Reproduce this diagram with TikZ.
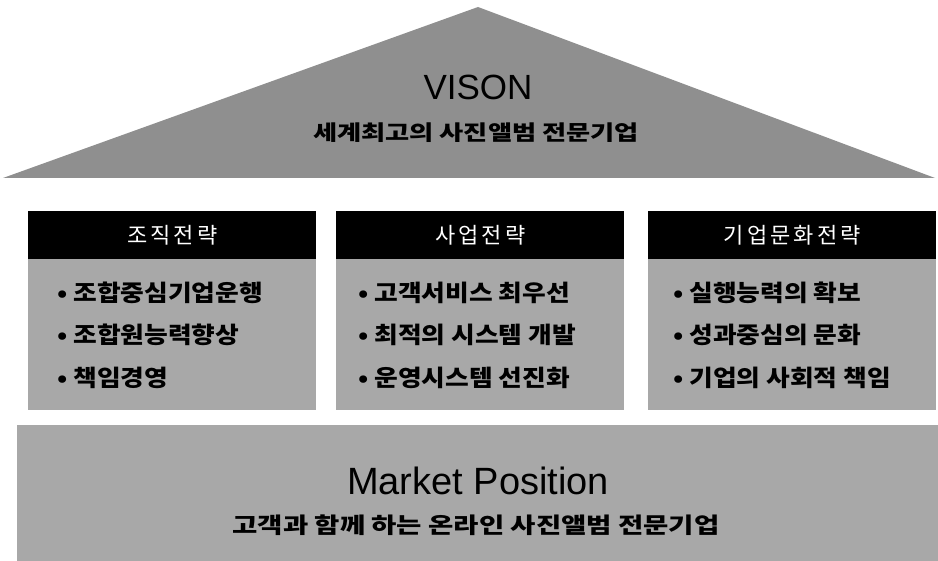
\documentclass[tikz,border=0pt]{standalone}
\usepackage{fontspec}
\setmainfont{Liberation Sans}
\newfontfamily\krwide{Noto Sans CJK KR}[FakeStretch=1.25]
\newfontfamily\kritem{Noto Sans CJK KR}[FakeStretch=1.12]
\newfontfamily\krhead{Noto Sans CJK KR}[LetterSpace=14]
\definecolor{roofgray}{gray}{0.56}
\definecolor{boxgray}{gray}{0.66}
\newcommand{\bul}{•\hspace{6pt}}
\begin{document}
\begin{tikzpicture}[x=1pt,y=-1pt,
  title/.style={font=\fontsize{35}{35}\selectfont, text=black, inner sep=0pt},
  subtitle/.style={font=\krwide\bfseries\fontsize{22}{22}\selectfont, inner sep=0pt},
  hdr/.style={fill=black, text=white, minimum width=288, minimum height=48, inner sep=0pt, anchor=north west, font=\krhead\fontsize{22}{22}\selectfont},
  bodybox/.style={fill=boxgray, minimum width=288, minimum height=152, inner sep=0pt, anchor=north west},
  item/.style={anchor=west, inner sep=0pt, font=\kritem\bfseries\fontsize{23}{23}\selectfont}
]
\useasboundingbox (0,0) rectangle (938,561);
% roof
\fill[roofgray] (478,7) coordinate (apex) -- (935,178) coordinate (br) -- (3,178) coordinate (bl) -- cycle;
\node[title] (vison) at (478,87) {VISON};
\node[subtitle, font=\krwide\bfseries\fontsize{21}{21}\selectfont] (vsub) at (476,133) {세계최고의 사진앨범 전문기업};
% pillars
\node[bodybox] (b1) at (28,258) {};
\node[bodybox] (b2) at (336,258) {};
\node[bodybox] (b3) at (648,258) {};
\node[hdr] (h1) at (28,211) {조직전략};
\node[hdr] (h2) at (336,211) {사업전략};
\node[hdr] (h3) at (648,211) {기업문화전략};
\node[item] (i11) at (57,293) {\bul 조합중심기업운행};
\node[item] (i12) at (57,335) {\bul 조합원능력향상};
\node[item] (i13) at (57,378) {\bul 책임경영};
\node[item] (i21) at (358,293) {\bul 고객서비스 최우선};
\node[item] (i22) at (358,335) {\bul 최적의 시스템 개발};
\node[item] (i23) at (358,378) {\bul 운영시스템 선진화};
\node[item] (i31) at (673,293) {\bul 실행능력의 확보};
\node[item] (i32) at (673,335) {\bul 성과중심의 문화};
\node[item] (i33) at (673,378) {\bul 기업의 사회적 책임};
% foundation
\fill[boxgray] (17,425) coordinate (fl) rectangle (938,561) coordinate (fr);
\node[title, font=\fontsize{38}{38}\selectfont] (mp) at (478,481) {Market Position};
\node[subtitle] (msub) at (476,525) {고객과 함께 하는 온라인 사진앨범 전문기업};
\end{tikzpicture}
\end{document}
